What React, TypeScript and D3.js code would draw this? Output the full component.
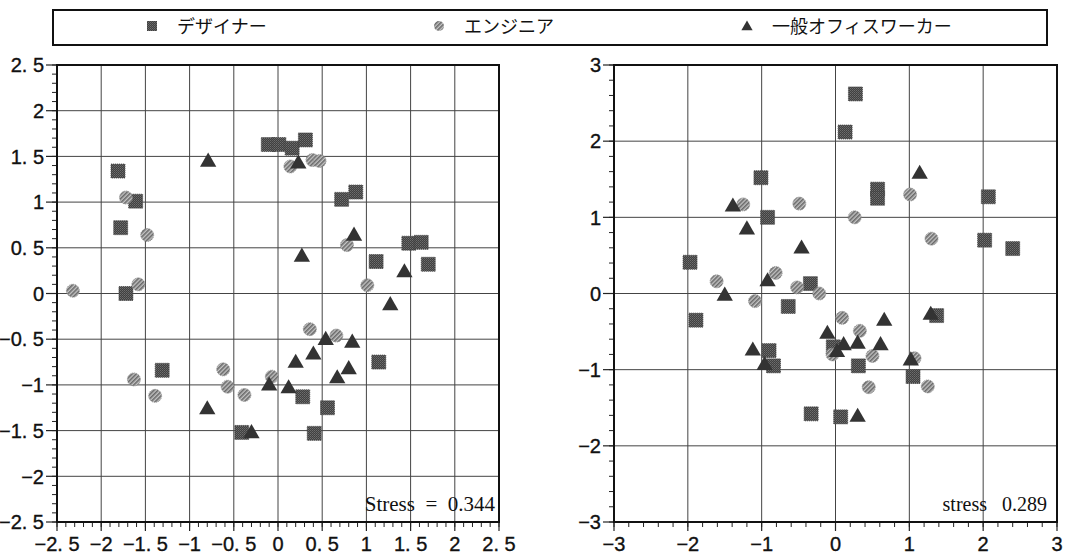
import React from 'react';
import * as d3 from 'd3';

type Pt = [number, number];

// Legend labels
const seriesNames = ['デザイナー', 'エンジニア', '一般オフィスワーカー'];

// Left configuration (Stress = 0.344)
const designerLeft: Pt[] = [
  [-1.81, 1.34], [-1.61, 1.01], [-1.78, 0.72], [-1.72, 0.0],
  [-0.11, 1.63], [0.01, 1.63], [0.16, 1.59], [0.31, 1.68],
  [0.72, 1.03], [0.88, 1.11], [1.48, 0.55], [1.62, 0.56],
  [1.11, 0.35], [1.7, 0.32], [1.14, -0.75], [-1.31, -0.84],
  [0.28, -1.13], [0.56, -1.25], [-0.41, -1.52], [0.41, -1.53],
];
const engineerLeft: Pt[] = [
  [-1.72, 1.05], [-1.48, 0.64], [-2.32, 0.03], [-1.58, 0.1],
  [0.14, 1.39], [0.39, 1.46], [0.47, 1.45], [0.78, 0.53],
  [1.01, 0.09], [0.36, -0.39], [0.66, -0.46], [-1.63, -0.94],
  [-1.39, -1.12], [-0.62, -0.83], [-0.57, -1.02], [-0.38, -1.11],
  [-0.07, -0.91],
];
const officeLeft: Pt[] = [
  [-0.79, 1.45], [0.23, 1.43], [0.86, 0.64], [0.27, 0.41],
  [1.43, 0.24], [1.27, -0.12], [0.54, -0.5], [0.84, -0.53],
  [0.4, -0.66], [0.2, -0.75], [0.8, -0.82], [0.67, -0.92],
  [-0.1, -1.0], [0.12, -1.03], [-0.8, -1.26], [-0.3, -1.52],
];

// Right configuration (stress 0.289)
const designerRight: Pt[] = [
  [0.27, 2.62], [0.13, 2.12], [-1.01, 1.52], [-0.92, 1.0],
  [-1.97, 0.41], [-0.34, 0.13], [-0.64, -0.17], [0.57, 1.37],
  [0.57, 1.25], [2.07, 1.27], [2.02, 0.7], [2.4, 0.59],
  [-1.89, -0.35], [1.37, -0.29], [-0.03, -0.7], [-0.9, -0.75],
  [-0.84, -0.95], [0.31, -0.95], [1.05, -1.09], [-0.33, -1.58],
  [0.07, -1.62],
];
const engineerRight: Pt[] = [
  [-1.25, 1.17], [-0.49, 1.18], [-1.61, 0.16], [-0.81, 0.27],
  [-0.52, 0.08], [-0.22, 0.0], [-1.09, -0.1], [1.01, 1.3],
  [0.26, 1.0], [1.3, 0.72], [0.09, -0.32], [0.33, -0.49],
  [-0.04, -0.8], [0.5, -0.82], [1.07, -0.85], [1.25, -1.22],
  [0.45, -1.23],
];
const officeRight: Pt[] = [
  [-1.39, 1.15], [-1.2, 0.85], [-0.46, 0.6], [-1.5, -0.02],
  [-0.92, 0.17], [1.14, 1.58], [0.66, -0.35], [1.29, -0.27],
  [-0.11, -0.52], [0.11, -0.67], [0.3, -0.65], [0.61, -0.67],
  [0.02, -0.76], [-1.12, -0.74], [-0.96, -0.93], [1.02, -0.87],
  [0.3, -1.61],
];

// Axis ticks
const ticksLeft = [-2.5, -2, -1.5, -1, -0.5, 0, 0.5, 1, 1.5, 2, 2.5];
const ticksRight = [-3, -2, -1, 0, 1, 2, 3];

const stressLeft = 'Stress  =  0.344';
const stressRight = 'stress   0.289';

const fmtLeft = (v: number) => {
  const sign = v < 0 ? '−' : '';
  const a = Math.abs(v);
  return sign + (Number.isInteger(a) ? String(a) : a.toFixed(1).replace('.', '. '));
};
const fmtRight = (v: number) => (v < 0 ? '−' : '') + String(Math.abs(v));

const tickFont = '"Liberation Sans Narrow", "Arial Narrow", "Liberation Sans", sans-serif';

const SQ = 14;
const CR = 6.5;
const triPath = d3.symbol().type(d3.symbolTriangle).size(115)() as string;

function Marker({ kind, x, y }: { kind: number; x: number; y: number }) {
  if (kind === 0)
    return <rect x={x - SQ / 2} y={y - SQ / 2} width={SQ} height={SQ} fill="url(#sqFill)" stroke="#444" strokeWidth={0.8} strokeDasharray="1.2 0.8" />;
  if (kind === 1)
    return <circle cx={x} cy={y} r={CR} fill="url(#ciFill)" stroke="#888" strokeWidth={0.8} strokeDasharray="1.2 0.8" />;
  return <path d={triPath} transform={`translate(${x},${y + 1})`} fill="#333" />;
}

interface PanelProps {
  left: number; right: number; top: number; bottom: number;
  ticks: number[]; minorStep: number; fmt: (v: number) => string;
  series: Pt[][]; stress: string; stressX: number; stressSize: number;
}

function Panel(p: PanelProps) {
  const lo = p.ticks[0];
  const hi = p.ticks[p.ticks.length - 1];
  const x = d3.scaleLinear().domain([lo, hi]).range([p.left, p.right]);
  const y = d3.scaleLinear().domain([lo, hi]).range([p.bottom, p.top]);
  const n = Math.round((hi - lo) / p.minorStep);
  const minor = d3.range(n + 1).map((i) => lo + i * p.minorStep);
  const inner = p.ticks.slice(1, -1);
  return (
    <g>
      {/* grid */}
      {inner.map((t) => (
        <line key={'gx' + t} x1={x(t)} x2={x(t)} y1={p.top} y2={p.bottom} stroke="#444" strokeWidth={1} />
      ))}
      {inner.map((t) => (
        <line key={'gy' + t} x1={p.left} x2={p.right} y1={y(t)} y2={y(t)} stroke="#444" strokeWidth={1} />
      ))}
      {/* minor ticks */}
      {minor.map((t, i) => (
        <line key={'my' + i} x1={p.left - 5} x2={p.left} y1={y(t)} y2={y(t)} stroke="#222" strokeWidth={1} />
      ))}
      {minor.map((t, i) => (
        <line key={'mx' + i} x1={x(t)} x2={x(t)} y1={p.bottom} y2={p.bottom + 5} stroke="#222" strokeWidth={1} />
      ))}
      {/* major ticks */}
      {p.ticks.map((t) => (
        <line key={'ty' + t} x1={p.left - 11} x2={p.left} y1={y(t)} y2={y(t)} stroke="#222" strokeWidth={1.2} />
      ))}
      {p.ticks.map((t) => (
        <line key={'tx' + t} x1={x(t)} x2={x(t)} y1={p.bottom} y2={p.bottom + 9} stroke="#222" strokeWidth={1.2} />
      ))}
      {/* frame */}
      <rect x={p.left} y={p.top} width={p.right - p.left} height={p.bottom - p.top} fill="none" stroke="#111" strokeWidth={2} />
      {/* tick labels */}
      {p.ticks.map((t) => (
        <text key={'ly' + t} x={p.left - 13} y={y(t)} dy="0.36em" textAnchor="end" fontFamily={tickFont} fontSize={20} fill="#111" stroke="#111" strokeWidth={0.35}>
          {p.fmt(t)}
        </text>
      ))}
      {p.ticks.map((t) => (
        <text key={'lx' + t} x={x(t)} y={p.bottom + 29} textAnchor="middle" fontFamily={tickFont} fontSize={20} fill="#111" stroke="#111" strokeWidth={0.35}>
          {p.fmt(t)}
        </text>
      ))}
      {/* points */}
      {p.series.map((pts, k) =>
        pts.map((d, i) => <Marker key={k + '-' + i} kind={k} x={x(d[0])} y={y(d[1])} />)
      )}
      <text x={p.stressX} y={p.bottom - 11} textAnchor="end" fontFamily='"Liberation Serif", "Times New Roman", serif' fontSize={p.stressSize} fill="#111" style={{ whiteSpace: 'pre' }}>
        {p.stress}
      </text>
    </g>
  );
}

export default function App() {
  const legendX = [152, 439, 747];
  return (
    <svg width={1078} height={554} style={{ position: 'absolute', left: 0, top: 0, background: '#fff' }}>
      <defs>
        <pattern id="sqFill" width={2} height={2} patternUnits="userSpaceOnUse">
          <rect width={2} height={2} fill="#404040" />
          <rect width={1} height={1} fill="#6e6e6e" />
          <rect x={1} y={1} width={1} height={1} fill="#5e5e5e" />
        </pattern>
        <pattern id="ciFill" width={3} height={3} patternUnits="userSpaceOnUse" patternTransform="rotate(45)">
          <rect width={3} height={3} fill="#c4c4c4" />
          <rect width={1.6} height={3} fill="#6a6a6a" />
        </pattern>
      </defs>
      <rect x={0} y={0} width={1078} height={554} fill="#fff" />
      {/* legend */}
      <rect x={53} y={10} width={994} height={35} fill="#fff" stroke="#111" strokeWidth={2} />
      {seriesNames.map((name, k) => (
        <g key={name}>
          {k === 0 && <rect x={legendX[k] - 5} y={21} width={10} height={10} fill="url(#sqFill)" />}
          {k === 1 && <circle cx={legendX[k]} cy={26} r={5} fill="url(#ciFill)" />}
          {k === 2 && <path d={d3.symbol().type(d3.symbolTriangle).size(55)() as string} transform={`translate(${legendX[k]},27)`} fill="#333" />}
          <text x={legendX[k] + 25} y={27} dy="0.36em" fontFamily='"Noto Sans CJK JP", sans-serif' fontSize={18} fill="#111">
            {name}
          </text>
        </g>
      ))}
      <Panel left={57} right={499} top={65} bottom={522} ticks={ticksLeft} minorStep={0.1} fmt={fmtLeft}
        series={[designerLeft, engineerLeft, officeLeft]} stress={stressLeft} stressX={495} stressSize={21} />
      <Panel left={614} right={1057} top={65} bottom={522} ticks={ticksRight} minorStep={0.2} fmt={fmtRight}
        series={[designerRight, engineerRight, officeRight]} stress={stressRight} stressX={1047} stressSize={20} />
    </svg>
  );
}
